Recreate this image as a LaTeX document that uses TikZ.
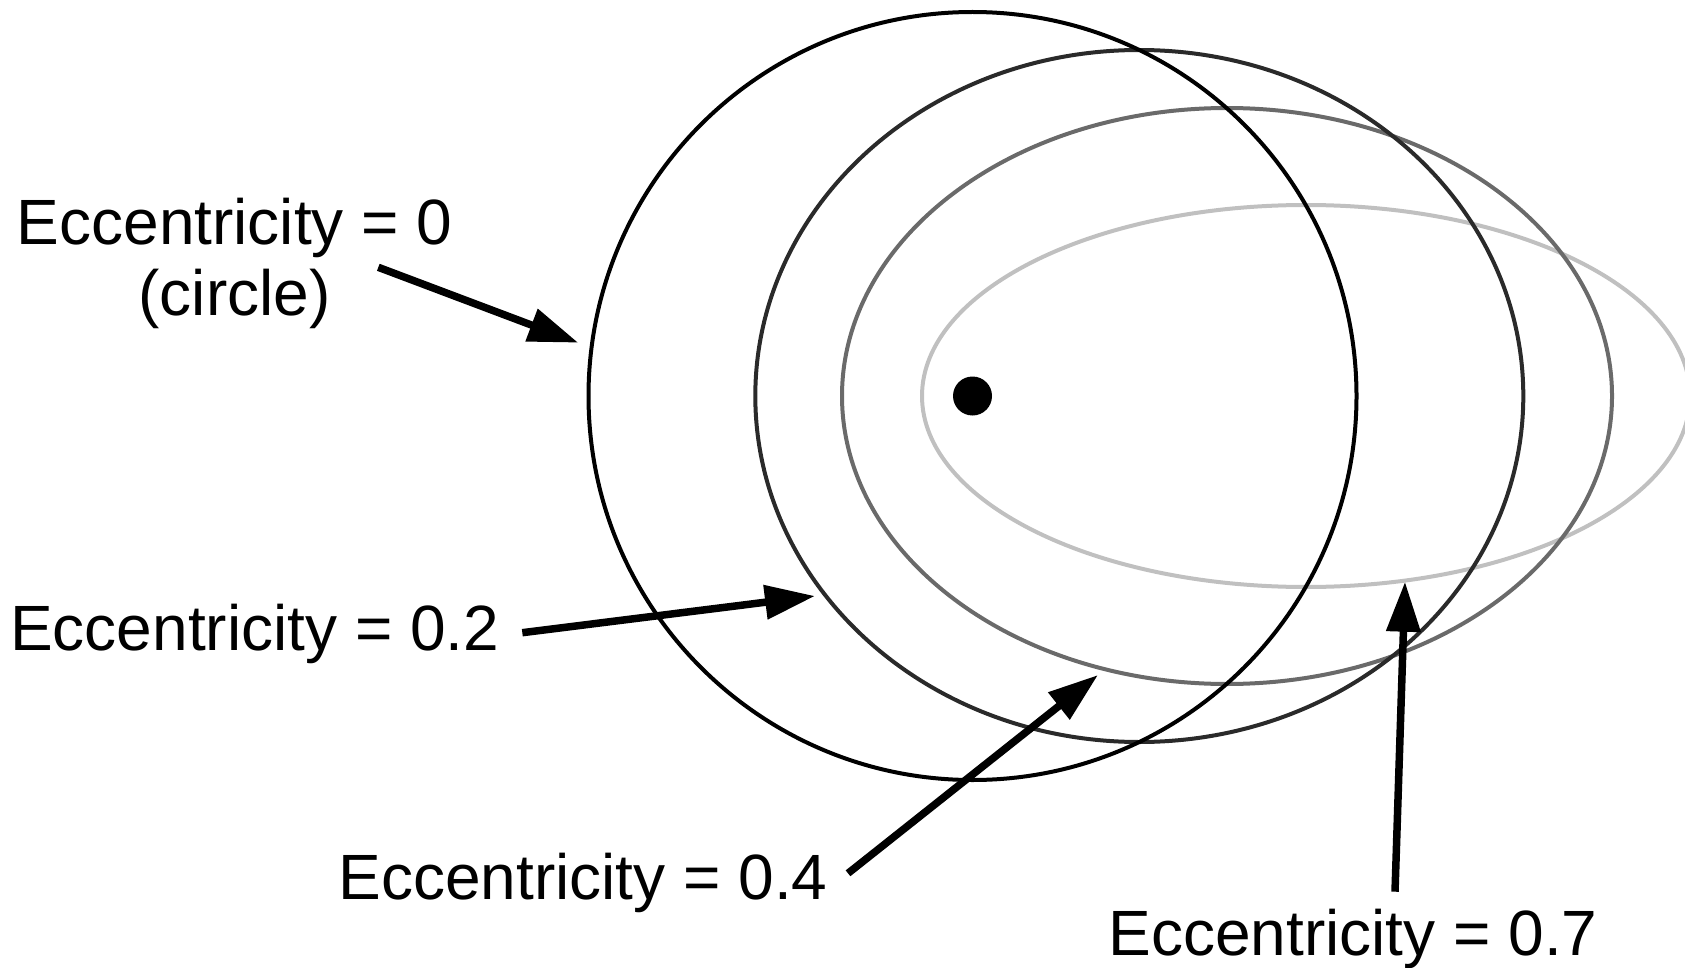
\documentclass[tikz,border=0pt]{standalone}
\usepackage{fontspec}
\setmainfont{Liberation Sans}
\usetikzlibrary{arrows.meta}
\definecolor{orbA}{HTML}{000000}
\definecolor{orbB}{HTML}{2A2A2A}
\definecolor{orbC}{HTML}{6A6A6A}
\definecolor{orbD}{HTML}{C0C0C0}
\tikzset{
  orbit/.style={line width=4pt},
  pointer/.style={line width=7.5pt,-{Triangle[length=50pt,width=33pt]}},
  lbl/.style={inner sep=0pt,anchor=base west,font=\fontsize{64}{71}\selectfont},
  lblc/.style={inner sep=0pt,anchor=base,font=\fontsize{64}{71}\selectfont}
}
\begin{document}
\begin{tikzpicture}[x=1pt,y=-1pt]
\useasboundingbox (0,0) rectangle (1685,968);
% orbits
\coordinate (cA) at (972.5,396);
\coordinate (cB) at (1139.3,396);
\coordinate (cC) at (1227,396);
\coordinate (cD) at (1306,396);
\draw[orbit,orbD] (cD) ellipse [x radius=384pt,y radius=191pt];
\draw[orbit,orbC] (cC) ellipse [x radius=385pt,y radius=288pt];
\draw[orbit,orbB] (cB) ellipse [x radius=384pt,y radius=346pt];
\draw[orbit,orbA] (cA) circle [radius=384pt];
% focus
\fill (cA) circle [radius=19.5pt];
% labels
\node[lblc] (l0a) at (234.6,244) {Eccentricity = 0};
\node[lblc] (l0b) at (234.6,315) {(circle)};
\node[lbl] (l2) at (10,650.7) {Eccentricity = 0.2};
\node[lbl] (l4) at (338.3,899.3) {Eccentricity = 0.4};
\node[lbl] (l7) at (1108.3,955) {Eccentricity = 0.7};
% pointer ends
\coordinate (t0) at (378.3,267.3);
\coordinate (h0) at (578.3,342.7);
\coordinate (t2) at (522.3,632.7);
\coordinate (h2) at (815,596);
\coordinate (t4) at (848,873.3);
\coordinate (h4) at (1098,675);
\coordinate (t7) at (1395,891.7);
\coordinate (h7) at (1405,581.7);
\draw[pointer] (t0) -- (h0);
\draw[pointer] (t2) -- (h2);
\draw[pointer] (t4) -- (h4);
\draw[pointer] (t7) -- (h7);
\end{tikzpicture}
\end{document}
